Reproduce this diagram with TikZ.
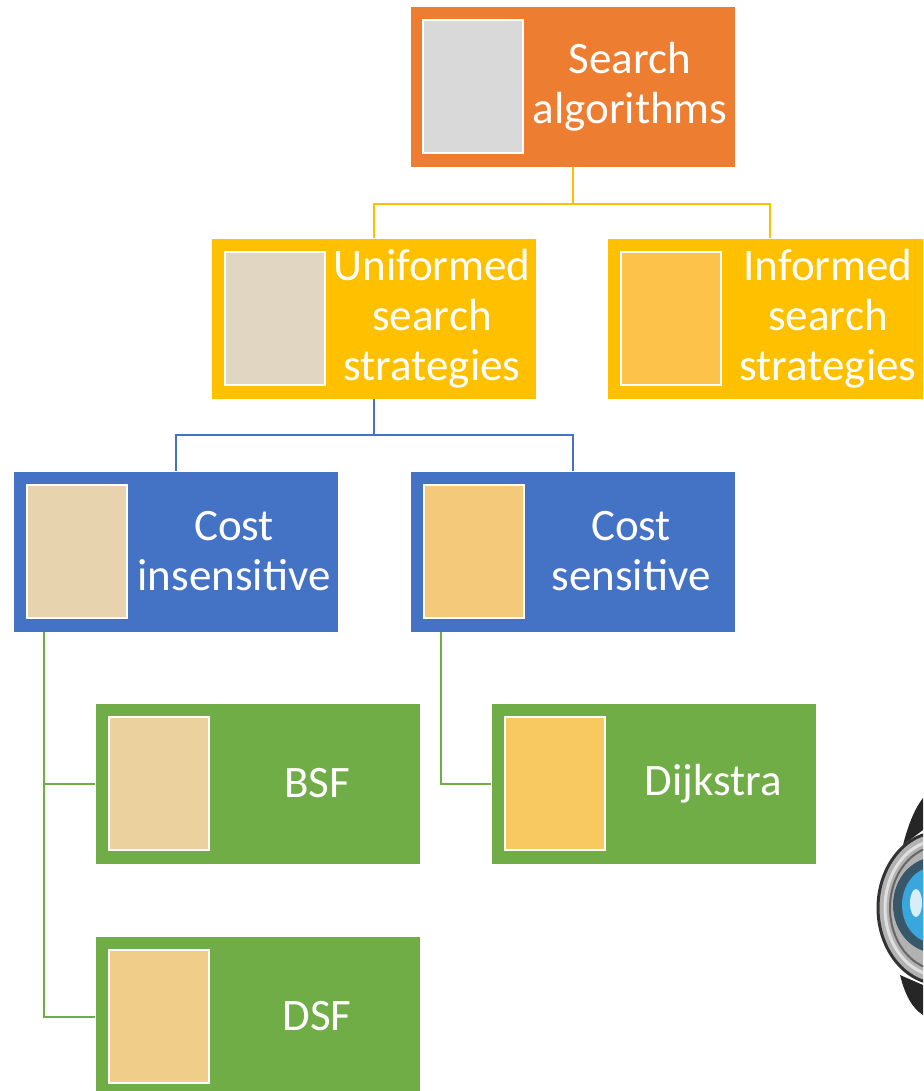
\documentclass[tikz,border=0pt]{standalone}
\usepackage{fontspec}
\setmainfont{Carlito}
\usepackage{tikz}

\definecolor{orangeA}{HTML}{ED7D31}
\definecolor{goldA}{HTML}{FFC000}
\definecolor{blueA}{HTML}{4472C4}
\definecolor{greenA}{HTML}{70AD47}
\definecolor{thumbGrey}{HTML}{D9D9D9}
\definecolor{thumbSand}{HTML}{E0D6C2}
\definecolor{thumbGold}{HTML}{FDC24A}
\definecolor{thumbTan}{HTML}{E8D3AF}
\definecolor{thumbAmber}{HTML}{F4C97A}
\definecolor{thumbWheat}{HTML}{EAD19D}
\definecolor{thumbHoney}{HTML}{F0CD88}
\definecolor{thumbSun}{HTML}{F8C861}
\definecolor{irisBlue}{HTML}{3AA6DE}

\tikzset{
  card/.style={rectangle, inner sep=0, minimum width=325pt, minimum height=161pt, draw=white, line width=0.8pt},
  thumb/.style={rectangle, inner sep=0, minimum width=100pt, minimum height=133pt, draw=white, line width=2pt},
  caption/.style={text=white, align=center, inner sep=0},
  link/.style={line width=2pt}
}

\begin{document}
\begin{tikzpicture}[x=1pt,y=-1pt,font=\fontsize{45}{50}\selectfont]
\useasboundingbox (0,0) rectangle (923,1091);
\clip (0,0) rectangle (923,1091);

% top level
\node[card, fill=orangeA] (search) at (572.5,86.5) {};
\node[thumb, fill=thumbGrey] (searchimg) at (473,86.5) {};
\node[caption] (searchtxt) at (630,86.5) {Search\\algorithms};

% second level
\node[card, fill=goldA] (uninf) at (373.5,318.5) {};
\node[thumb, fill=thumbSand] (uninfimg) at (275,318.5) {};
\node[caption] (uninftxt) at (432,318.5) {Uniformed\\search\\strategies};

\node[card, fill=goldA] (inf) at (769.5,318.5) {};
\node[thumb, fill=thumbGold] (infimg) at (671,318.5) {};
\node[caption] (inftxt) at (828,318.5) {Informed\\search\\strategies};

% third level
\node[card, fill=blueA] (insens) at (175.5,551.5) {};
\node[thumb, fill=thumbTan] (insensimg) at (77,551.5) {};
\node[caption] (insenstxt) at (234,551.5) {Cost\\insensitive};

\node[card, fill=blueA] (sens) at (572.5,551.5) {};
\node[thumb, fill=thumbAmber] (sensimg) at (473.5,551.5) {};
\node[caption] (senstxt) at (631,551.5) {Cost\\sensitive};

% leaves
\node[card, fill=greenA] (bsf) at (257.5,783.5) {};
\node[thumb, fill=thumbWheat] (bsfimg) at (159,783.5) {};
\node[caption] (bsftxt) at (317,783.5) {BSF};

\node[card, fill=greenA] (dsf) at (257.5,1016.5) {};
\node[thumb, fill=thumbHoney] (dsfimg) at (159,1016.5) {};
\node[caption] (dsftxt) at (317,1016.5) {DSF};

\node[card, fill=greenA] (dijk) at (653.5,783.5) {};
\node[thumb, fill=thumbSun] (dijkimg) at (555,783.5) {};
\node[caption] (dijktxt) at (713,783.5) {Dijkstra};

% tree links
\draw[link, goldA] (search.south) -- ++(0,37) -| (uninf.north);
\draw[link, goldA] (search.south) -- ++(0,37) -| (inf.north);
\draw[link, blueA] (uninf.south) -- ++(0,36) -| (insens.north);
\draw[link, blueA] (uninf.south) -- ++(0,36) -| (sens.north);
\draw[link, greenA] ([xshift=31pt]insens.south west) |- (bsf.west);
\draw[link, greenA] ([xshift=31pt]insens.south west) |- (dsf.west);
\draw[link, greenA] ([xshift=31pt]sens.south west) |- (dijk.west);

% lens picture cut by the right edge
\fill[black!85] (903,845) .. controls (908,825) and (915,808) .. (923,798) -- (923,830) -- cycle;
\fill[black!85] (900,975) .. controls (905,995) and (912,1008) .. (923,1015) -- (923,985) -- cycle;
\fill[gray!60, draw=black!80, line width=3pt] (940,908) ellipse (62pt and 76pt);
\draw[gray!25, line width=3pt] (940,908) ellipse (55pt and 68pt);
\draw[black!60, line width=2pt] (940,908) ellipse (50pt and 62pt);
\fill[gray!50!irisBlue!60!black] (936,905) ellipse (43pt and 48pt);
\fill[irisBlue] (934,905) ellipse (32pt and 38pt);
\fill[white!80!irisBlue] (916,903) ellipse (6pt and 14pt);
\end{tikzpicture}
\end{document}
